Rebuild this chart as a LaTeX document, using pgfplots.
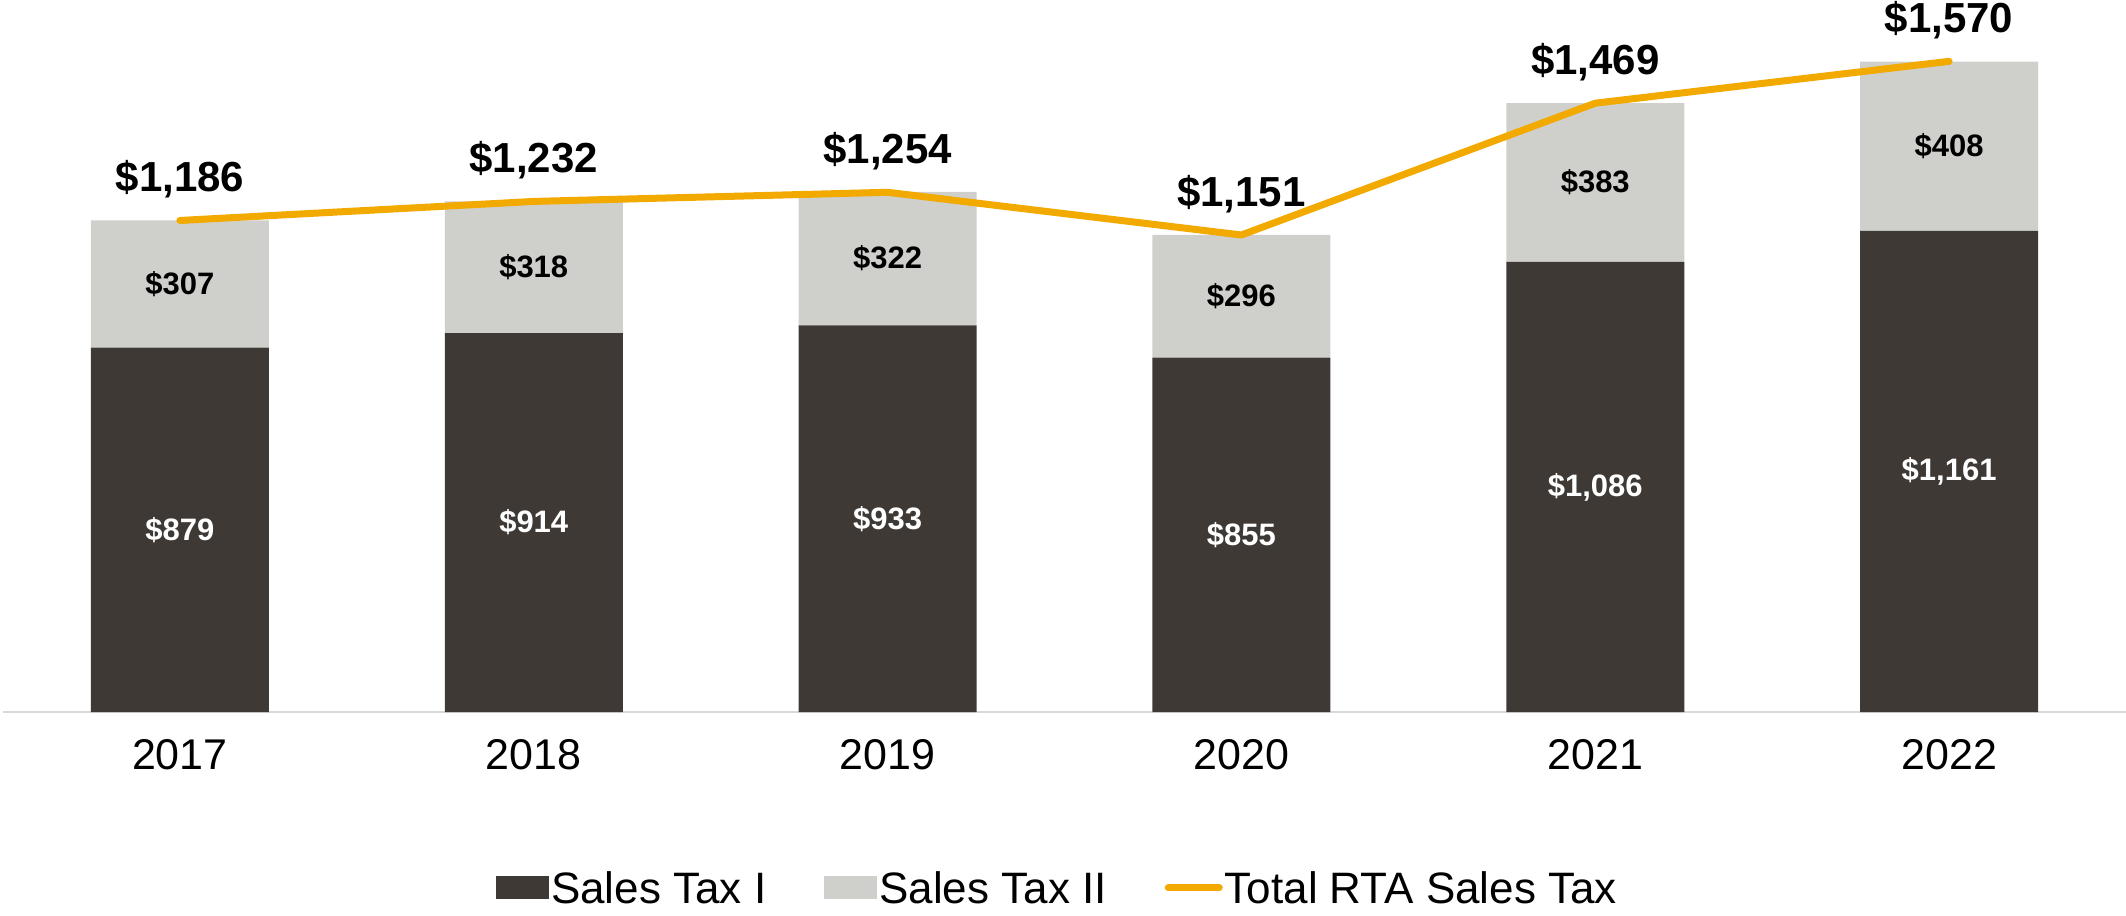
\documentclass[border=0pt]{standalone}
\usepackage{fontspec}
\setmainfont{Liberation Sans}
\usepackage{pgfplots}
\pgfplotsset{compat=1.18}
\definecolor{darkbar}{HTML}{3E3935}
\definecolor{lightbar}{HTML}{CFD0CB}
\definecolor{rtaorange}{HTML}{F2A900}
\definecolor{axisgray}{HTML}{D9D9D9}
\begin{document}
\begin{tikzpicture}
\pgfplotsset{
  common/.style={
    scale only axis, width=1061.5pt, height=356pt,
    xmin=-0.5, xmax=5.5, ymin=0, ymax=1718,
    clip=false,
  }
}
\begin{axis}[common, name=ax,
  ybar stacked, bar width=89pt,
  axis y line=none, axis x line*=bottom,
  x axis line style={draw=axisgray, line width=1pt, -},
  xtick={0,1,2,3,4,5},
  xticklabels={2017,2018,2019,2020,2021,2022},
  major tick length=0pt,
  /pgf/number format/assume math mode=true,
  xticklabel style={font=\fontsize{21.5}{25}\selectfont, yshift=-10pt},
  legend columns=3,
  legend style={at={(0.4967,-0.247)}, anchor=center, draw=none, fill=none,
    inner sep=0pt,
    font=\fontsize{22}{26}\selectfont,
    nodes={inner sep=1pt, text depth=0pt},
    /tikz/every even column/.append style={column sep=28pt}},
  legend cell align=left,
]
\addplot[fill=darkbar, draw=none, area legend,
  legend image code/.code={\fill[darkbar] (0pt,-5.75pt) rectangle (26.5pt,5.75pt);}]
  coordinates {(0,879) (1,914) (2,933) (3,855) (4,1086) (5,1161)};
\addlegendentry{Sales Tax I}
\addplot[fill=lightbar, draw=none, area legend,
  legend image code/.code={\fill[lightbar] (0pt,-5.75pt) rectangle (26.5pt,5.75pt);}]
  coordinates {(0,307) (1,318) (2,322) (3,296) (4,383) (5,408)};
\addlegendentry{Sales Tax II}
\addlegendimage{legend image code/.code={\draw[rtaorange, line width=3.5pt, line cap=round] (1.75pt,0pt) -- (27.25pt,0pt);}}
\addlegendentry{Total RTA Sales Tax}
\end{axis}
\begin{axis}[common, hide axis]
\addplot[rtaorange, line width=3.5pt, line cap=round, line join=round, mark=none,
  nodes near coords={\$\pgfplotspointmeta},
  point meta=explicit symbolic,
  every node near coord/.append style={anchor=center, yshift=20.5pt, text=black,
    font=\bfseries\fontsize{21}{25}\selectfont}]
  table[meta=label] {
x y label
0 1186 1,186
1 1232 1,232
2 1254 1,254
3 1151 1,151
4 1469 1,469
5 1570 1,570
};
\addplot[draw=none, mark=none,
  nodes near coords={\$\pgfplotspointmeta},
  point meta=explicit symbolic,
  every node near coord/.append style={anchor=center, text=white,
    font=\bfseries\fontsize{15.5}{18}\selectfont}]
  table[meta=label] {
x y label
0 439.5 879
1 457 914
2 466.5 933
3 427.5 855
4 543 1,086
5 580.5 1,161
};
\addplot[draw=none, mark=none,
  nodes near coords={\$\pgfplotspointmeta},
  point meta=explicit symbolic,
  every node near coord/.append style={anchor=center, text=black,
    font=\bfseries\fontsize{15.5}{18}\selectfont}]
  table[meta=label] {
x y label
0 1032.5 307
1 1073 318
2 1094 322
3 1003 296
4 1277.5 383
5 1365 408
};
\end{axis}
\pgfresetboundingbox
\path[use as bounding box] ([xshift=-1.5pt,yshift=-101.5pt]ax.south west) rectangle (ax.north east);
\end{tikzpicture}
\end{document}
